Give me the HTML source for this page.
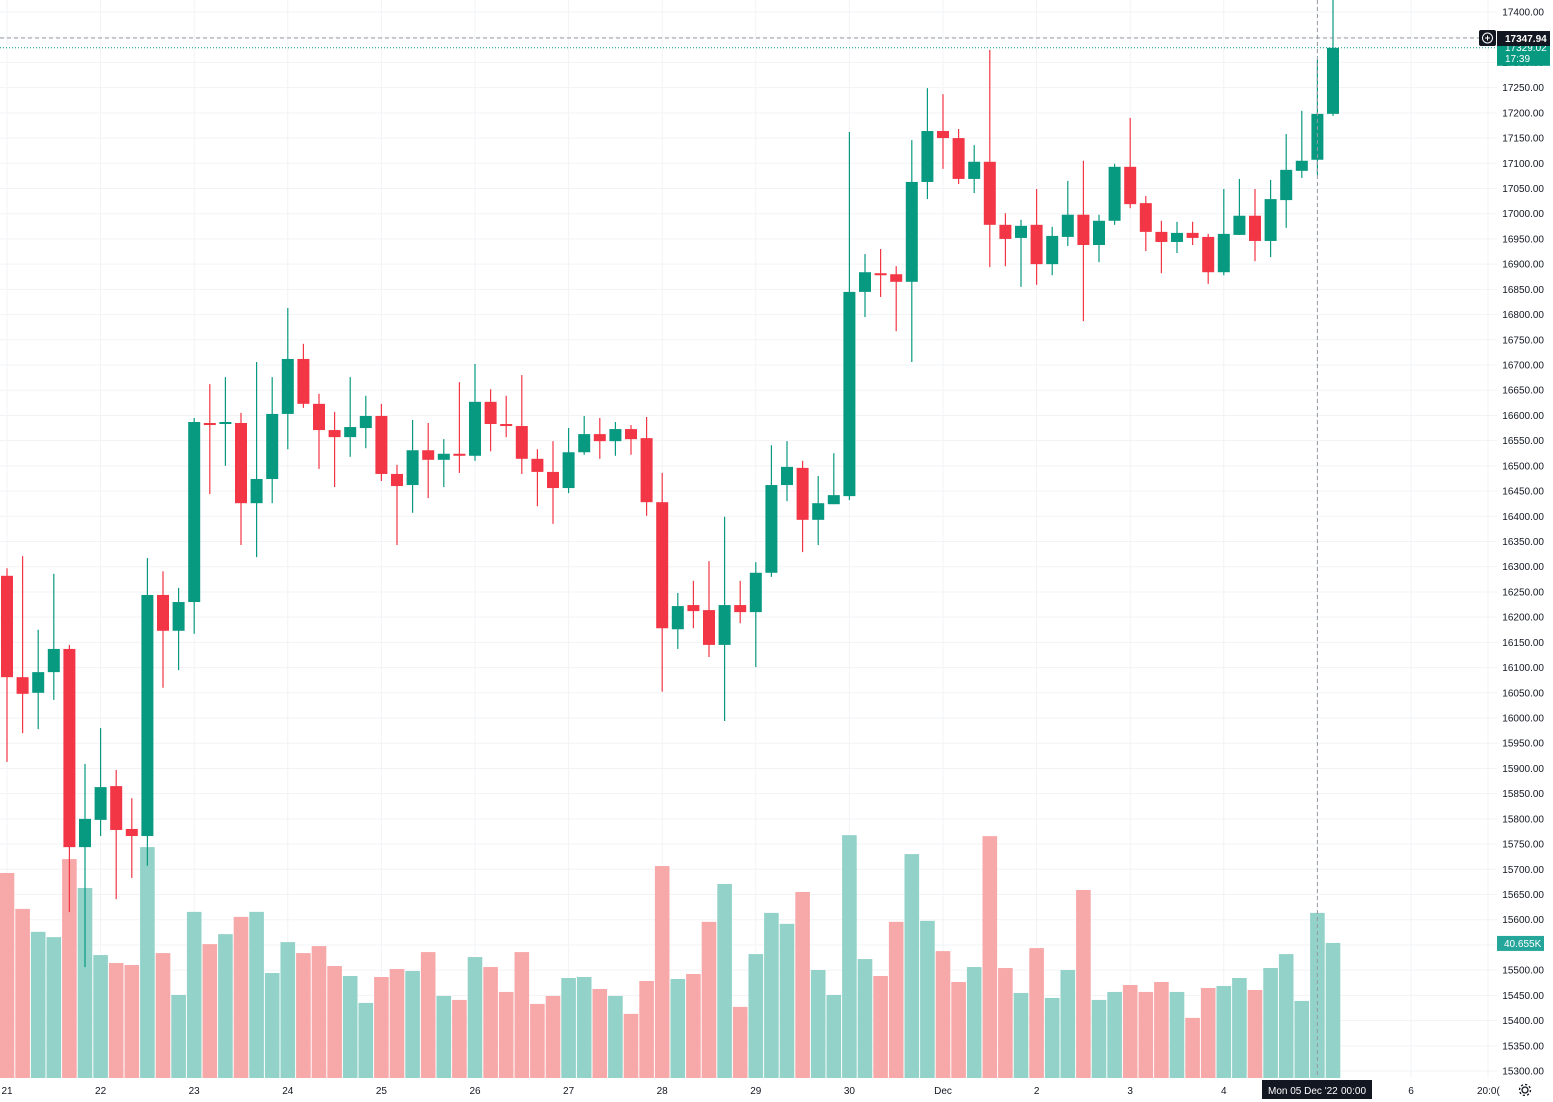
<!DOCTYPE html>
<html><head><meta charset="utf-8"><style>
html,body{margin:0;padding:0;background:#fff;}
svg{display:block;font-family:"Liberation Sans",sans-serif;}
</style></head><body>
<svg id="chart" width="1553" height="1102" xmlns="http://www.w3.org/2000/svg">
<g id="grid"></g>
<g id="vol"></g>
<g id="candles"></g>
<g id="axis"></g>
<g id="taxis"></g>
<g id="over"></g>
</svg>
<script>
const opens=[16282,16081,16050,16091,16137,15744,15798,15865,15780,15766,16244,16173,16230,16585,16583,16585,16426,16474,16603,16712,16623,16571,16557,16575,16599,16484,16462,16531,16512,16524,16520,16627,16583,16579,16514,16488,16456,16527,16563,16549,16573,16555,16428,16176,16224,16214,16145,16224,16210,16288,16462,16496,16393,16424,16440,16845,16882,16880,16865,17063,17164,17150,17069,17103,16978,16952,16978,16900,16954,16998,16938,16986,17093,17021,16964,16944,16962,16954,16884,16958,16996,16946,17027,17085,17107,17198];
const closes=[16081,16048,16091,16137,15744,15800,15863,15778,15766,16244,16173,16230,16587,16581,16587,16426,16474,16603,16712,16623,16571,16557,16577,16599,16484,16460,16531,16512,16524,16520,16627,16583,16579,16514,16488,16456,16527,16563,16549,16573,16553,16428,16178,16222,16212,16145,16224,16210,16288,16462,16498,16393,16426,16442,16845,16884,16878,16865,17063,17164,17150,17069,17103,16978,16950,16976,16900,16956,16998,16938,16986,17093,17019,16964,16944,16962,16952,16884,16960,16996,16946,17029,17087,17105,17198,17329];
const highs=[16297,16321,16175,16286,16145,15909,15980,15897,15841,16317,16291,16258,16595,16662,16676,16605,16706,16676,16813,16742,16643,16607,16676,16639,16623,16502,16591,16585,16553,16666,16702,16652,16639,16680,16533,16549,16575,16599,16595,16587,16581,16597,16486,16248,16272,16311,16399,16272,16309,16541,16549,16510,16480,16525,17162,16920,16930,16896,17146,17249,17237,17168,17136,17325,17001,16988,17049,16974,17065,17105,16998,17099,17190,17035,16986,16984,16984,16960,17049,17069,17049,17067,17158,17204,17305,17424];
const lows=[15913,15970,15978,16036,15615,15506,15766,15641,15683,15707,16060,16095,16167,16444,16500,16343,16319,16426,16533,16615,16494,16458,16518,16535,16470,16343,16407,16436,16458,16486,16510,16529,16557,16484,16420,16385,16446,16522,16514,16520,16522,16401,16052,16137,16178,16121,15994,16188,16101,16280,16430,16329,16343,16424,16432,16795,16835,16767,16706,17029,17089,17059,17041,16894,16896,16855,16859,16878,16936,16787,16904,16978,17011,16926,16882,16922,16938,16861,16878,16958,16906,16914,16972,17071,17077,17194];
const volumes=[61.7,50.9,44.0,42.4,65.9,57.2,37.0,34.6,34.0,69.5,37.6,25.0,50.0,40.3,43.3,48.5,50.0,31.6,40.9,37.6,39.7,33.7,30.7,22.6,30.4,32.8,32.2,37.9,24.7,23.5,36.4,33.4,25.9,37.9,22.3,24.7,30.1,30.4,26.8,24.7,19.3,29.2,63.8,29.8,31.3,47.0,58.4,21.4,37.3,49.7,46.4,56.0,32.5,25.0,73.1,35.8,30.7,47.0,67.4,47.3,38.2,28.9,33.4,72.8,33.1,25.6,39.1,24.1,32.5,56.6,23.5,25.9,28.0,25.9,28.9,25.9,18.1,27.1,27.7,30.1,26.5,33.1,37.3,23.2,49.7,40.655];
const dayLabels=["21","22","23","24","25","26","27","28","29","30","Dec","2","3","4","","6"];
const priceTicks=[];for(let p=15300;p<=17400;p+=50)priceTicks.push(p);

const NS="http://www.w3.org/2000/svg";
const X0=7,DX=15.6,BOT=1078;
const xOf=i=>X0+i*DX;
const yOf=p=>12+(17400-p)*0.5043;
const vOf=v=>BOT-v/0.301;
function mk(tag,attrs,parent,text){const e=document.createElementNS(NS,tag);for(const k in attrs)e.setAttribute(k,attrs[k]);if(text!==undefined)e.textContent=text;parent.appendChild(e);return e;}
const G=document.getElementById('grid'),V=document.getElementById('vol'),C=document.getElementById('candles'),A=document.getElementById('axis'),T=document.getElementById('taxis'),O=document.getElementById('over');

priceTicks.forEach(p=>{
  const l=mk('line',{x1:0,x2:1497,y1:yOf(p),y2:yOf(p),stroke:'#f2f3f6','stroke-width':1},G);
  
  
  const t=mk('text',{x:1544,y:yOf(p)+3.5,'font-size':10,fill:'#131722','text-anchor':'end'},A,p.toFixed(2));
  
  
});
dayLabels.forEach((d,k)=>{
  const x=xOf(k*6);
  const l=mk('line',{x1:x,x2:x,y1:0,y2:BOT,stroke:'#f2f3f6','stroke-width':1},G);
  
  
  if(d){const t=mk('text',{x:x,y:1094,'font-size':10,fill:'#131722','text-anchor':'middle'},T,d);
  
  }
});
mk('line',{x1:1488,x2:1488,y1:0,y2:BOT,stroke:'#f2f3f6'},G);
const t20=mk('text',{x:1477,y:1094,'font-size':10,fill:'#131722'},T,'20:0(');



opens.forEach((o,i)=>{
  const c=closes[i],up=c>=o,x=xOf(i);
  const vb=mk('rect',{x:x-7.3,y:vOf(volumes[i]),width:14.6,height:BOT-vOf(volumes[i]),fill:up?'#92d2c9':'#f7a8a9'},V);
  
  
  const col=up?'#089981':'#f23645';
  const w=mk('line',{x1:x,x2:x,y1:yOf(highs[i]),y2:yOf(lows[i]),stroke:col,'stroke-width':1.2},C);
  
  
  const top=yOf(Math.max(o,c)),bh=Math.max(2,Math.abs(yOf(o)-yOf(c)));
  const b=mk('rect',{x:x-6,y:top,width:12,height:bh,fill:col},C);
  
  
});

// current price line and crosshair
const last=closes[closes.length-1];
mk('line',{x1:0,x2:1497,y1:yOf(last),y2:yOf(last),stroke:'#089981','stroke-dasharray':'1 2'},O);
mk('line',{x1:0,x2:1497,y1:38,y2:38,stroke:'#9598a1','stroke-dasharray':'4 3'},O);
mk('line',{x1:xOf(84),x2:xOf(84),y1:0,y2:BOT,stroke:'#9598a1','stroke-dasharray':'4 3'},O);
const lp=mk('g',{},O);


mk('rect',{x:1497,y:yOf(last)-6,width:53,height:24,fill:'#089981'},lp);
mk('text',{x:1505,y:yOf(last)+3,'font-size':10,fill:'#fff'},lp,last.toFixed(2)==='17329.00'?'17329.02':last.toFixed(2));
mk('text',{x:1505,y:yOf(last)+14,'font-size':10,fill:'#fff'},lp,'17:39');
const ch=mk('g',{},O);


mk('rect',{x:1479,y:30,width:17,height:16,rx:2,fill:'#131722'},ch);
mk('circle',{cx:1487.5,cy:38,r:5,fill:'none',stroke:'#fff','stroke-width':1},ch);
mk('path',{d:'M1485 38h5M1487.5 35.5v5',stroke:'#fff','stroke-width':1},ch);
mk('rect',{x:1497,y:31,width:53,height:15,fill:'#131722'},ch);
mk('text',{x:1505,y:42,'font-size':10,'font-weight':'bold',fill:'#fff'},ch,'17347.94');
const vt=mk('g',{},O);


const lv=volumes[volumes.length-1];
mk('rect',{x:1497,y:vOf(lv)-7,width:47,height:15,fill:'#26a69a'},vt);
mk('text',{x:1504,y:vOf(lv)+4,'font-size':10,fill:'#fff'},vt,lv.toFixed(3)+'K');
const tt=mk('g',{},O);


mk('rect',{x:1262,y:1080,width:110,height:19,fill:'#131722'},tt);
mk('text',{x:1268,y:1094,'font-size':10,fill:'#fff'},tt,"Mon 05 Dec '22");
mk('text',{x:1341,y:1094,'font-size':10,fill:'#fff'},tt,'00:00');
const gear=mk('g',{stroke:'#131722','stroke-width':1.3,fill:'none'},O);


mk('circle',{cx:1525,cy:1090,r:3},gear);
mk('circle',{cx:1525,cy:1090,r:5.5,'stroke-dasharray':'2.2 2.1'},gear);
</script>
</body></html>
